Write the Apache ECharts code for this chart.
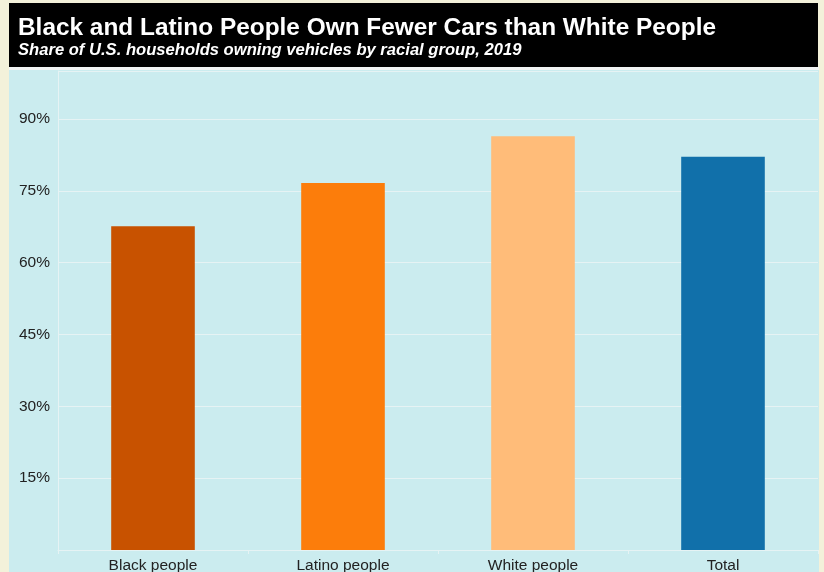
<!DOCTYPE html>
<html><head><meta charset="utf-8">
<script src="https://cdn.jsdelivr.net/npm/echarts@6/dist/echarts.min.js"></script>
<style>html,body{margin:0;padding:0;background:#f3f1da}#c{width:824px;height:572px}</style>
</head><body><div id="c"></div>
<script>
var categories = ['Black people', 'Latino people', 'White people', 'Total'];
var values = [67.6, 76.6, 86.4, 82.1];
var barColors = ['#c85200', '#fc7d0b', '#ffbc79', '#1170aa'];
var yTicks = [15, 30, 45, 60, 75, 90];

var chart = echarts.init(document.getElementById('c'));
var font = 'Liberation Sans, Arial, sans-serif';
chart.setOption({
  backgroundColor: '#f3f1da',
  animation: false,
  graphic: [
    {type: 'rect', z: -10, silent: true, shape: {x: 9, y: 3, width: 809, height: 64}, style: {fill: '#000'}},
    {type: 'rect', z: -10, silent: true, shape: {x: 9, y: 67, width: 810, height: 3}, style: {fill: '#f2f4f4'}},
    {type: 'rect', z: -10, silent: true, shape: {x: 9, y: 70, width: 810, height: 502}, style: {fill: '#cbecef'}}
  ],
  title: {
    text: 'Black and Latino People Own Fewer Cars than White People',
    subtext: 'Share of U.S. households owning vehicles by racial group, 2019',
    left: 13, top: 11, itemGap: 2,
    textStyle: {color: '#fff', fontSize: 24.4, fontWeight: 'bold', fontFamily: font},
    subtextStyle: {color: '#fff', fontSize: 16.6, fontWeight: 'bold', fontStyle: 'italic', fontFamily: font}
  },
  grid: {left: 58, right: 6, top: 71, bottom: 22, containLabel: false, outerBoundsMode: 'none'},
  xAxis: {
    type: 'category', data: categories,
    axisLine: {show: true, lineStyle: {color: '#e6f3f4', width: 1}},
    axisTick: {show: true, length: 4, lineStyle: {color: '#e6f3f4'}},
    axisLabel: {color: '#222', fontSize: 15.5, fontFamily: font, margin: 8},
    splitLine: {show: false}
  },
  yAxis: {
    type: 'value', min: 0, max: 100, interval: 15,
    axisLine: {show: true, lineStyle: {color: '#e6f3f4'}},
    axisTick: {show: false},
    axisLabel: {color: '#222', fontSize: 15.5, fontFamily: font, margin: 8,
      formatter: function (v) { return yTicks.indexOf(v) >= 0 ? v + '%' : ''; }},
    splitLine: {show: true, lineStyle: {color: '#e6f3f4', width: 1}}
  },
  series: [{
    type: 'bar', barWidth: '44%',
    data: values.map(function (v, i) { return {value: v, itemStyle: {color: barColors[i]}}; })
  }]
});
</script></body></html>
